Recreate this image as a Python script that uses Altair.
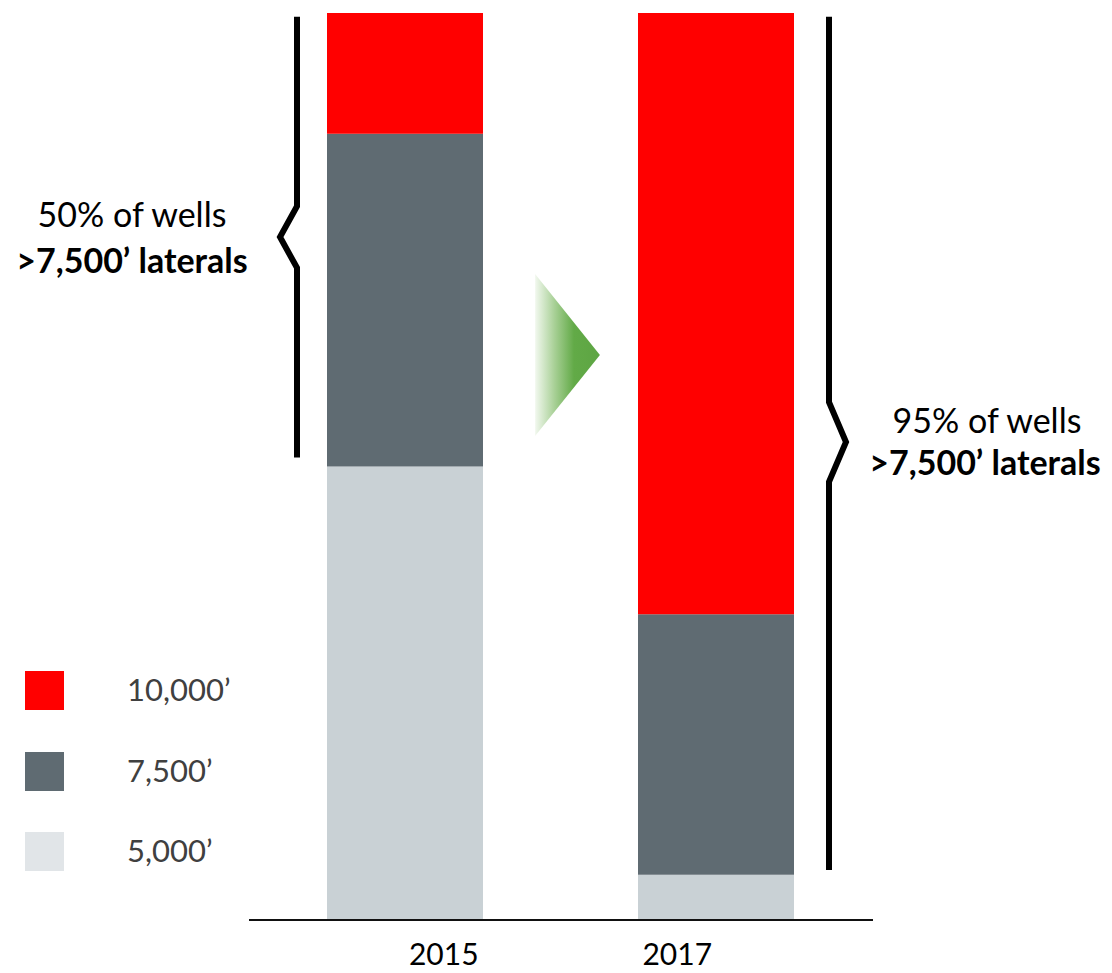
import altair as alt
import pandas as pd

# ---- data ----
years = ["2015", "2017"]
lengths = ["5,000’", "7,500’", "10,000’"]
share_5000 = [50, 5]
share_7500 = [36.7, 28.7]
share_10000 = [13.3, 66.3]
bracket_pct_labels = ["50% of wells", "95% of wells"]
bracket_bold = ">7,500’ laterals"
# bracket extents in share units (bottom, kink start, apex, kink end, top)
bracket_low = [51, 5.5]
bracket_high = [99.6, 99.6]
bracket_apex = [75.3, 52.7]
bracket_half = [3.4, 4.4]

# ---- styles ----
bar_colors = ["#C9D1D5", "#5F6B72", "#FF0000"]
legend_colors = ["#E1E5E8", "#5F6B72", "#FF0000"]
FONT = "Lato"
W, H = 1096, 965

rows = []
series = [share_5000, share_7500, share_10000]
for i, yr in enumerate(years):
    for j, L in enumerate(lengths):
        rows.append({"Year": yr, "Length": L, "Share": series[j][i], "order": j})
df = pd.DataFrame(rows)

y_scale = alt.Scale(domain=[0, 100], range=[912, 5], nice=False, zero=True)
x_band = alt.Scale(domain=years, range=[319, 786], paddingInner=0.4984, paddingOuter=0)
px = alt.Scale(domain=[0, W], range=[0, W], nice=False, zero=False)

bars = alt.Chart(df).mark_bar().encode(
    x=alt.X("Year:N", scale=x_band, axis=None),
    y=alt.Y("Share:Q", stack="zero", scale=y_scale, axis=None),
    color=alt.Color("Length:N", scale=alt.Scale(domain=lengths, range=bar_colors), legend=None),
    order=alt.Order("order:Q"),
)

baseline = alt.Chart(pd.DataFrame({"v": [0]})).mark_rule(color="#111111", strokeWidth=2).encode(
    x=alt.value(241), x2=alt.value(865),
    y=alt.Y("v:Q", scale=y_scale, axis=None),
)

year_text = alt.Chart(pd.DataFrame({"Year": years})).mark_text(
    font=FONT, fontSize=30, color="#000000", baseline="middle", align="center"
).encode(
    x=alt.X("Year:N", scale=x_band, axis=None),
    y=alt.value(948),
    text="Year:N",
)

# brackets (x in pixels, y in share units)
bracket_x = [(289, 272), (821, 838)]
brows = []
for b in range(2):
    xv, xk = bracket_x[b]
    lo, hi, ap, hf = bracket_low[b], bracket_high[b], bracket_apex[b], bracket_half[b]
    pts = [(xv, hi), (xv, ap + hf), (xk, ap), (xv, ap - hf), (xv, lo)]
    for k, (xx, yy) in enumerate(pts):
        brows.append({"b": b, "i": k, "px": xx, "pct": yy})
brackets = alt.Chart(pd.DataFrame(brows)).mark_line(
    color="#000000", strokeWidth=6, strokeJoin="miter", strokeCap="butt"
).encode(
    x=alt.X("px:Q", scale=px, axis=None),
    y=alt.Y("pct:Q", scale=y_scale, axis=None),
    detail="b:N",
    order="i:Q",
)

text_layers = []
text_pos = [((124, 209), (124, 255)), ((979, 415), (977, 457))]
for b in range(2):
    (x1, y1), (x2, y2) = text_pos[b]
    text_layers.append(
        alt.Chart(pd.DataFrame({"t": [bracket_pct_labels[b]]})).mark_text(
            font=FONT, fontSize=34, color="#000000", align="center", baseline="middle"
        ).encode(x=alt.value(x1), y=alt.value(y1), text="t:N")
    )
    text_layers.append(
        alt.Chart(pd.DataFrame({"t": [bracket_bold]})).mark_text(
            font=FONT, fontSize=34, fontWeight="bold", color="#000000", align="center", baseline="middle"
        ).encode(x=alt.value(x2), y=alt.value(y2), text="t:N")
    )

# gradient arrow
arrow = alt.Chart(pd.DataFrame({"a": [1]})).mark_point(
    shape="M-0.4,-1 L0.4,0 L-0.4,1 Z",
    size=162 * 162,
    filled=True,
    opacity=1,
    strokeWidth=0,
    fill=alt.LinearGradient(
        gradient="linear",
        x1=0, x2=1, y1=0, y2=0,
        stops=[
            alt.GradientStop(color="#f2f8ef", offset=0),
            alt.GradientStop(color="#a8d096", offset=0.3),
            alt.GradientStop(color="#62aa47", offset=0.6),
            alt.GradientStop(color="#5da543", offset=1),
        ],
    ),
).encode(x=alt.value(559.5), y=alt.value(347))

# manual legend (top to bottom: 10,000 / 7,500 / 5,000)
legend_layers = []
legend_y = [682.5, 763.5, 843.5]
for k, j in enumerate([2, 1, 0]):
    legend_layers.append(
        alt.Chart(pd.DataFrame({"t": [lengths[j]]})).mark_square(
            size=39 * 39, color=legend_colors[j], opacity=1
        ).encode(x=alt.value(36.5), y=alt.value(legend_y[k]))
    )
    legend_layers.append(
        alt.Chart(pd.DataFrame({"t": [lengths[j]]})).mark_text(
            font=FONT, fontSize=31, color="#404040", align="left", baseline="middle"
        ).encode(x=alt.value(119), y=alt.value(legend_y[k] + 1), text="t:N")
    )

chart = alt.layer(
    bars, baseline, year_text, brackets, arrow, *text_layers, *legend_layers
).resolve_scale(x="independent").properties(
    width=W, height=H, padding=0, autosize="none", background="white"
).configure_view(stroke=None)

chart.save("out.html", embed_options={"renderer": "svg", "actions": False})
